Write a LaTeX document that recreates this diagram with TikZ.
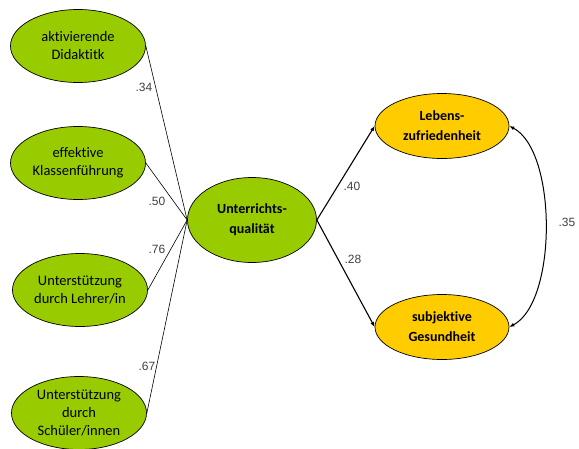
\documentclass[tikz,border=0pt]{standalone}
\usepackage{fontspec}
\setmainfont{Carlito}[Ligatures={NoCommon}]
\newfontfamily\zahlfont{Liberation Sans}
\usetikzlibrary{shapes.geometric,arrows.meta}
\definecolor{grasgruen}{HTML}{99CC00}
\definecolor{sonnengelb}{HTML}{FFCC00}

\begin{document}
\begin{tikzpicture}[x=1pt,y=-1pt,
		merkmal/.style={ellipse,draw,line width=0.7pt,fill=grasgruen,minimum width=135pt,minimum height=73pt,inner sep=0pt,align=center,font=\fontsize{14.5}{18}\selectfont},
		ergebnis/.style={ellipse,draw,line width=0.7pt,fill=sonnengelb,minimum width=134pt,minimum height=65pt,inner sep=0pt,align=center,font=\bfseries\fontsize{14}{20}\selectfont},
		ladung/.style={font=\zahlfont\fontsize{12}{14}\selectfont,text=black!75,inner sep=0pt},
		pfeil/.style={line width=1.1pt,-{Latex[length=5pt,width=4pt]}}]
		\useasboundingbox (0,0) rectangle (579,448);

		% Indikatoren
		\node[merkmal] (akt) at (78,46) {aktivierende\\Didaktitk};
		\node[merkmal] (kla) at (78,163) {effektive\\Klassenführung};
		\node[merkmal] (leh) at (80,290) {Unterstützung\\durch Lehrer/in};
		\node[merkmal] (sch) at (79,413) {Unterstützung\\durch\\Schüler/innen};

		% latente Variable
		\node[merkmal,minimum width=129pt,minimum height=85pt,font=\bfseries\fontsize{14}{20}\selectfont] (uq) at (252,220) {Unterrichts-\\qualität};

		% Kriterien
		\node[ergebnis] (leb) at (442,126) {Lebens-\\zufriedenheit};
		\node[ergebnis] (ges) at (442,327) {subjektive\\Gesundheit};

		% Ladungen
		\draw[line width=0.6pt] (akt.east) -- (uq.west);
		\draw[line width=0.6pt] (kla.east) -- (uq.west);
		\draw[line width=0.6pt] (leh.east) -- (uq.west);
		\draw[line width=0.6pt] (sch.east) -- (uq.west);
		\node[ladung] (l1) at (144,87) {.34};
		\node[ladung] (l2) at (157,201) {.50};
		\node[ladung] (l3) at (157,249) {.76};
		\node[ladung] (l4) at (147,366) {.67};

		% Pfade
		\draw[pfeil] (uq.east) -- (leb.west);
		\draw[pfeil] (uq.east) -- (ges.west);
		\node[ladung] (p1) at (352,186) {.40};
		\node[ladung] (p2) at (353,259) {.28};

		% Korrelation
		\draw[line width=1pt,{Latex[length=5pt,width=4pt]}-{Latex[length=5pt,width=4pt]}] (leb.east) .. controls +(48,25) and +(48,-25) .. (ges.east);
		\node[ladung] (k1) at (567,222) {.35};
	\end{tikzpicture}
\end{document}
